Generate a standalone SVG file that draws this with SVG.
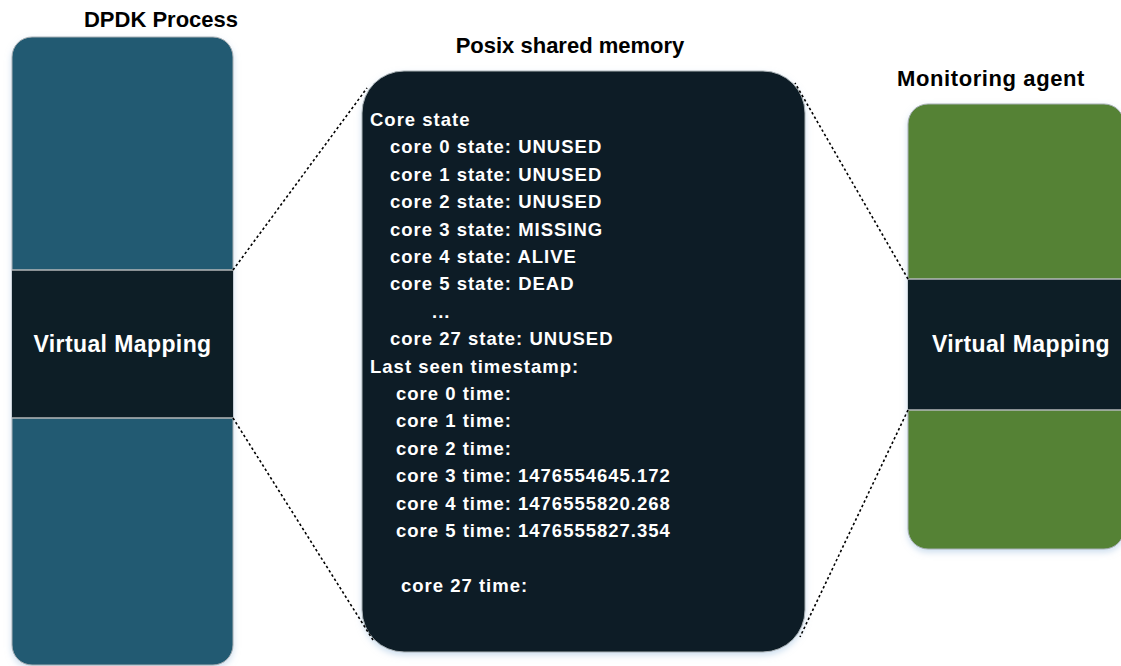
<svg xmlns="http://www.w3.org/2000/svg" width="1121" height="666" viewBox="0 0 1121 666">
  <style>
    .title { font-family: "Liberation Sans", Arial, sans-serif; font-weight: bold; font-size: 22px; fill: #000; text-anchor: middle; }
    .band-label { font-family: "Liberation Sans", Arial, sans-serif; font-weight: bold; font-size: 23px; fill: #fff; text-anchor: middle; letter-spacing: 0.4px; }
    .mem { font-family: "Liberation Sans", Arial, sans-serif; font-weight: bold; font-size: 18.5px; fill: #fff; letter-spacing: 1px; }
    .frame { stroke: #a9b0b4; stroke-width: 1; }
    .sep { stroke: #b4b8ba; stroke-width: 1.5; }
    .link { stroke: #000; stroke-width: 1.6; stroke-dasharray: 2.5 2.5; fill: none; }
  </style>
  <defs>
    <filter id="glow" x="-10%" y="-10%" width="120%" height="120%">
      <feDropShadow dx="0" dy="3" stdDeviation="3" flood-color="#9fbfe0" flood-opacity="0.5"/>
    </filter>
    <clipPath id="clipLeft">
      <rect x="12" y="37" width="221" height="628" rx="20"/>
    </clipPath>
    <clipPath id="clipRight">
      <rect x="908" y="104" width="216" height="445" rx="20"/>
    </clipPath>
  </defs>

  <rect width="1121" height="666" fill="#fff"/>

  <!-- DPDK process -->
  <g id="dpdk-process">
    <text class="title" x="161" y="27">DPDK Process</text>
    <rect x="12" y="37" width="221" height="628" rx="20" fill="#215a72" class="frame" filter="url(#glow)"/>
    <g clip-path="url(#clipLeft)">
      <rect x="12" y="270" width="221" height="148" fill="#0d1e26"/>
      <line class="sep" x1="12" y1="270" x2="233" y2="270"/>
      <line class="sep" x1="12" y1="418" x2="233" y2="418"/>
    </g>
    <text class="band-label" x="122.5" y="352">Virtual Mapping</text>
  </g>

  <!-- Shared memory segment -->
  <g id="shared-memory">
    <text class="title" x="570" y="53">Posix shared memory</text>
    <rect x="362" y="71" width="443" height="581" rx="42" fill="#0e1f27" class="frame" filter="url(#glow)"/>
    <text class="mem" x="370" y="126">Core state</text>
    <text class="mem" x="390" y="153.4">core 0 state: UNUSED</text>
    <text class="mem" x="390" y="180.8">core 1 state: UNUSED</text>
    <text class="mem" x="390" y="208.2">core 2 state: UNUSED</text>
    <text class="mem" x="390" y="235.6">core 3 state: MISSING</text>
    <text class="mem" x="390" y="263">core 4 state: ALIVE</text>
    <text class="mem" x="390" y="290.4">core 5 state: DEAD</text>
    <text class="mem" x="432" y="317.8">...</text>
    <text class="mem" x="390" y="345.2">core 27 state: UNUSED</text>
    <text class="mem" x="370" y="372.6">Last seen timestamp:</text>
    <text class="mem" x="396" y="400">core 0 time:</text>
    <text class="mem" x="396" y="427.4">core 1 time:</text>
    <text class="mem" x="396" y="454.8">core 2 time:</text>
    <text class="mem" x="396" y="482.2">core 3 time: 1476554645.172</text>
    <text class="mem" x="396" y="509.6">core 4 time: 1476555820.268</text>
    <text class="mem" x="396" y="537">core 5 time: 1476555827.354</text>
    <text class="mem" x="401" y="591.8">core 27 time:</text>
  </g>

  <!-- Monitoring agent -->
  <g id="monitoring-agent">
    <text class="title" x="991" y="86" style="letter-spacing:0.6px">Monitoring agent</text>
    <rect x="908" y="104" width="216" height="445" rx="20" fill="#548235" class="frame" filter="url(#glow)"/>
    <g clip-path="url(#clipRight)">
      <rect x="908" y="279" width="216" height="131" fill="#0d1e26"/>
      <line class="sep" x1="908" y1="279" x2="1124" y2="279"/>
      <line class="sep" x1="908" y1="410" x2="1124" y2="410"/>
    </g>
    <text class="band-label" x="1021" y="352">Virtual Mapping</text>
  </g>

  <!-- Mapping projections -->
  <g id="connectors">
    <line class="link" x1="233" y1="270" x2="367" y2="88"/>
    <line class="link" x1="233" y1="418" x2="373" y2="640"/>
    <line class="link" x1="908" y1="279" x2="795" y2="83"/>
    <line class="link" x1="908" y1="410" x2="800" y2="637"/>
  </g>
</svg>
